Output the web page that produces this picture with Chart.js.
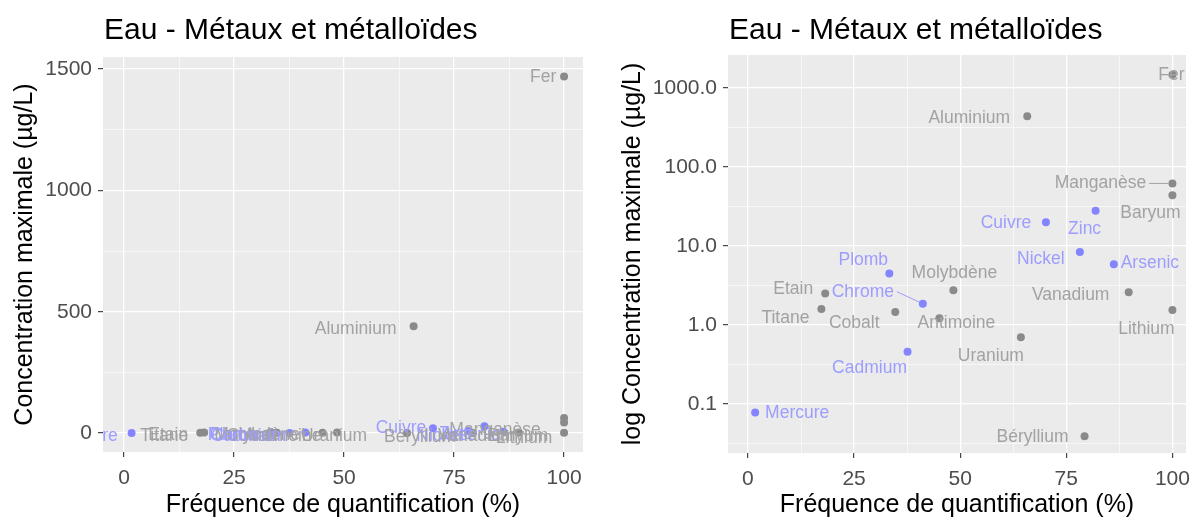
<!DOCTYPE html>
<html>
<head>
<meta charset="utf-8">
<script src="https://cdn.jsdelivr.net/npm/chart.js@4.4.0/dist/chart.umd.min.js"></script>
<style>
  html, body { margin: 0; padding: 0; background: #fff; }
  body { width: 1190px; height: 520px; position: relative; overflow: hidden; }
  .panel { position: absolute; top: 0; width: 595px; height: 520px; }
  #linWrap { left: 0; }
  #logWrap { left: 595px; }
</style>
</head>
<body>
<div class="panel" id="linWrap"><canvas id="linChart"></canvas></div>
<div class="panel" id="logWrap"><canvas id="logChart"></canvas></div>
<script>
// --- data
const elements   = ['Fer', 'Aluminium', 'Manganèse', 'Baryum', 'Zinc', 'Cuivre', 'Nickel', 'Arsenic',
                    'Vanadium', 'Lithium', 'Uranium', 'Béryllium', 'Plomb', 'Chrome', 'Etain', 'Titane',
                    'Cobalt', 'Antimoine', 'Molybdène', 'Cadmium', 'Mercure'];
const frequency  = [100, 65.8, 100, 100, 81.9, 70.2, 78.2, 86.2,
                    89.7, 100, 64.3, 79.3, 33.3, 41.2, 18.2, 17.3,
                    34.7, 45.1, 48.4, 37.6, 1.7];
const maxConc    = [1470, 440, 62, 44, 28, 20, 8.4, 5.9,
                    2.6, 1.55, 0.70, 0.039, 4.5, 1.86, 2.5, 1.6,
                    1.46, 1.22, 2.75, 0.46, 0.078];
const highlighted = [0, 0, 0, 0, 1, 1, 1, 1,
                     0, 0, 0, 0, 1, 1, 0, 0,
                     0, 0, 0, 1, 1];

const xTicks        = [0, 25, 50, 75, 100];
const linTicks      = [0, 500, 1000, 1500];
const logTicks      = [0.1, 1, 10, 100, 1000];
const logTickLabels = ['0.1', '1.0', '10.0', '100.0', '1000.0'];

const TITLE   = 'Eau - Métaux et métalloïdes';
const X_TITLE = 'Fréquence de quantification (%)';

// label placement (px, centre of text relative to the point), like ggrepel did it
const linLabelShift = {
  'Fer': [-21, 1], 'Aluminium': [-58, 3], 'Manganèse': [-69, 12], 'Baryum': [-46, 14], 'Zinc': [-29, 8],
  'Cuivre': [-32, 0], 'Nickel': [-28, 5], 'Arsenic': [-33, 4], 'Vanadium': [-42, 4], 'Lithium': [-40, 5],
  'Uranium': [-73, 3], 'Béryllium': [-53, 4], 'Plomb': [-38, 3], 'Chrome': [-65, 3], 'Etain': [-36, 3],
  'Titane': [-36, 3], 'Cobalt': [-25, 3], 'Antimoine': [-40, 3], 'Molybdène': [-80, 3], 'Cadmium': [-41, 3],
  'Mercure': [-46, 3]
};
const logLabelShift = {
  'Fer': [-1, 0], 'Aluminium': [-58, 2], 'Manganèse': [-72, 0], 'Baryum': [-22, 18], 'Zinc': [-11, 18],
  'Cuivre': [-40, 1], 'Nickel': [-39, 7], 'Arsenic': [36, -1], 'Vanadium': [-58, 3], 'Lithium': [-26, 19],
  'Uranium': [-30, 19], 'Béryllium': [-52, 1], 'Plomb': [-26, -13], 'Chrome': [-60, -12], 'Etain': [-32, -4],
  'Titane': [-36, 9], 'Cobalt': [-41, 11], 'Antimoine': [17, 5], 'Molybdène': [1, -17], 'Cadmium': [-38, 16],
  'Mercure': [42, 1]
};
const logSegments = ['Manganèse', 'Chrome'];

const FONT = '"Liberation Sans", Arial, sans-serif';
const GREY_PT = '#8a8a8a', GREY_TXT = '#a2a2a2';
const BLUE_PT = '#8484ff', BLUE_TXT = '#9d9dff';

// ggplot-ish minor breaks: midway between majors (log: geometric mean)
function withMinors(majors, lo, hi, isLog) {
  const mid = (a, b) => isLog ? Math.sqrt(a * b) : (a + b) / 2;
  const step = isLog ? majors[1] / majors[0] : majors[1] - majors[0];
  const first = isLog ? majors[0] / step : majors[0] - step;
  const last = isLog ? majors[majors.length - 1] * step : majors[majors.length - 1] + step;
  const all = [first, ...majors, last];
  const minors = [];
  for (let i = 0; i < all.length - 1; i++) minors.push(mid(all[i], all[i + 1]));
  return [...majors, ...minors].filter(v => v >= lo && v <= hi).sort((a, b) => a - b);
}

function gridStyle(majors) {
  const set = new Set(majors);
  return {
    color: '#ffffff',
    lineWidth: c => (c.tick && set.has(c.tick.value)) ? 1.3 : 0.6,
    tickColor: c => (c.tick && set.has(c.tick.value)) ? '#333333' : 'rgba(0,0,0,0)',
    tickWidth: 1.1,
    tickLength: 5,
    drawTicks: true,
    drawOnChartArea: true
  };
}

const panelBg = {
  id: 'panelBg',
  beforeDraw(chart) {
    const { ctx, chartArea: a } = chart;
    ctx.save();
    ctx.fillStyle = '#ebebeb';
    ctx.fillRect(a.left, a.top, a.right - a.left, a.bottom - a.top);
    ctx.restore();
  }
};

const panelTitle = {
  id: 'panelTitle',
  afterDraw(chart) {
    const { ctx, chartArea: a } = chart;
    ctx.save();
    ctx.font = '30px ' + FONT;
    ctx.fillStyle = '#000';
    ctx.textBaseline = 'alphabetic';
    ctx.textAlign = 'left';
    ctx.fillText(TITLE, a.left + 1, 39);
    ctx.restore();
  }
};

const pointLabels = {
  id: 'pointLabels',
  afterDatasetsDraw(chart, args, opts) {
    const { ctx, chartArea: a, scales: { x, y } } = chart;
    ctx.save();
    ctx.beginPath();
    ctx.rect(a.left, a.top, a.right - a.left, a.bottom - a.top);
    ctx.clip();
    ctx.font = '17.5px ' + FONT;
    ctx.textAlign = 'center';
    ctx.textBaseline = 'middle';
    elements.forEach((name, i) => {
      const px = x.getPixelForValue(frequency[i]);
      const py = y.getPixelForValue(maxConc[i]);
      const [dx, dy] = opts.shift[name];
      const col = highlighted[i] ? BLUE_TXT : GREY_TXT;
      const tx = px + dx, ty = py + dy;
      if (opts.segments.includes(name)) {
        const w = ctx.measureText(name).width;
        const sx = tx + w / 2 + 3;
        const ang = Math.atan2(py - ty, px - sx);
        ctx.strokeStyle = col;
        ctx.lineWidth = 1;
        ctx.beginPath();
        ctx.moveTo(sx, ty);
        ctx.lineTo(px - Math.cos(ang) * 4, py - Math.sin(ang) * 4);
        ctx.stroke();
      }
      ctx.fillStyle = col;
      ctx.fillText(name, tx, ty);
    });
    ctx.restore();
  }
};

function makeChart(canvasId, cfg) {
  const idx = elements.map((_, i) => i);
  const toPoint = i => ({ x: frequency[i], y: maxConc[i] });
  const grey = idx.filter(i => !highlighted[i]).map(toPoint);
  const blue = idx.filter(i => highlighted[i]).map(toPoint);
  const dot = { pointRadius: 4, pointHoverRadius: 4, borderWidth: 0, pointBorderWidth: 0 };

  const xAll = withMinors(xTicks, cfg.xMin, cfg.xMax, false);
  const yAll = withMinors(cfg.yTicks, cfg.yMin, cfg.yMax, cfg.yType === 'logarithmic');
  const yLabel = new Map(cfg.yTicks.map((v, i) => [v, cfg.yTickLabels[i]]));

  return new Chart(document.getElementById(canvasId), {
    type: 'scatter',
    data: {
      datasets: [
        { data: grey, backgroundColor: GREY_PT, ...dot },
        { data: blue, backgroundColor: BLUE_PT, ...dot }
      ]
    },
    options: {
      responsive: true, maintainAspectRatio: false, animation: false, devicePixelRatio: 1,
      layout: { padding: { top: cfg.top, right: cfg.right, left: 0, bottom: 0 } },
      plugins: {
        legend: { display: false },
        tooltip: { enabled: false },
        pointLabels: { shift: cfg.shift, segments: cfg.segments }
      },
      scales: {
        x: {
          type: 'linear', min: cfg.xMin, max: cfg.xMax,
          border: { display: false },
          grid: gridStyle(xTicks),
          afterBuildTicks: s => { s.ticks = xAll.map(v => ({ value: v })); },
          afterFit: s => { s.height = cfg.xHeight; s.paddingLeft = 0; s.paddingRight = 0; },
          ticks: {
            autoSkip: false, maxRotation: 0, padding: 9, color: '#4d4d4d',
            font: { family: FONT, size: 21 },
            callback: v => xTicks.includes(v) ? String(v) : ''
          },
          title: {
            display: true, text: X_TITLE, color: '#000',
            font: { family: FONT, size: 25, lineHeight: 1.2 }, padding: { top: 0, bottom: 0 }
          }
        },
        y: {
          type: cfg.yType, min: cfg.yMin, max: cfg.yMax,
          border: { display: false },
          grid: gridStyle(cfg.yTicks),
          afterBuildTicks: s => { s.ticks = yAll.map(v => ({ value: v })); },
          afterFit: s => { s.width = cfg.yWidth; s.paddingTop = 0; s.paddingBottom = 0; },
          ticks: {
            autoSkip: false, padding: 6, color: '#4d4d4d',
            font: { family: FONT, size: 21 },
            callback: v => yLabel.has(v) ? yLabel.get(v) : ''
          },
          title: {
            display: true, text: cfg.yTitle, color: '#000',
            font: { family: FONT, size: 25, lineHeight: 1.2 }, padding: { top: cfg.yTitlePad, bottom: 0 }
          }
        }
      }
    },
    plugins: [panelBg, panelTitle, pointLabels]
  });
}

makeChart('linChart', {
  top: 57, right: 12, xHeight: 68, yWidth: 103, yTitlePad: 10,
  xMin: -4.8, xMax: 104.3,
  yType: 'linear', yMin: -78, yMax: 1550,
  yTicks: linTicks, yTickLabels: linTicks.map(String),
  yTitle: 'Concentration maximale (µg/L)',
  shift: linLabelShift, segments: []
});

makeChart('logChart', {
  top: 55, right: 0, xHeight: 67, yWidth: 133, yTitlePad: 23,
  xMin: -4.7, xMax: 103.2,
  yType: 'logarithmic', yMin: 0.024, yMax: 2618,
  yTicks: logTicks, yTickLabels: logTickLabels,
  yTitle: 'log Concentration maximale (µg/L)',
  shift: logLabelShift, segments: logSegments
});
</script>
</body>
</html>
